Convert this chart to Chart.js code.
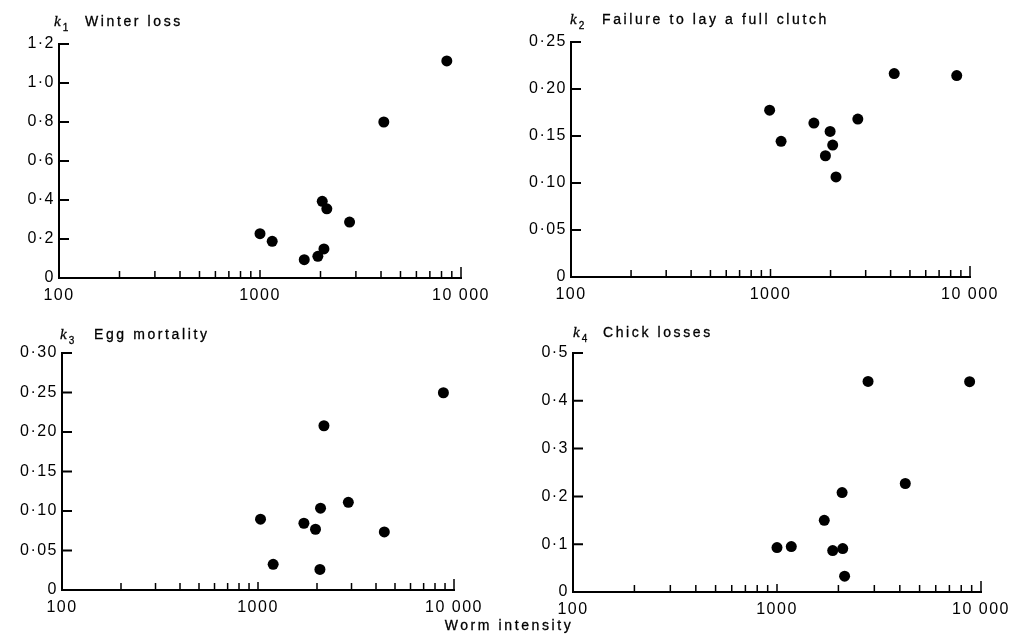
<!DOCTYPE html>
<html>
<head>
<meta charset="utf-8">
<script src="https://cdn.jsdelivr.net/npm/chart.js@4.4.1/dist/chart.umd.min.js"></script>
<style>
  body { margin: 0; background: #fff; }
  #page { position: relative; width: 1014px; height: 638px; overflow: hidden; background: #fff; }
  canvas { position: absolute; }
  .ttl { position: absolute; font: 14px/16px "Liberation Sans", Arial, sans-serif; letter-spacing: 2.6px; color: #000; white-space: nowrap; -webkit-text-stroke: 0.3px #000; }
  .kk { position: absolute; font: italic 15px/16px "Liberation Serif", serif; color: #000; -webkit-text-stroke: 0.3px #000; }
  .kk sub { font: normal 10px "Liberation Sans", sans-serif; vertical-align: -5px; margin-left: 2px; }
</style>
</head>
<body>
<div id="page">
  <canvas id="c1" width="507" height="319" style="left:0;top:0"></canvas>
  <canvas id="c2" width="507" height="319" style="left:507px;top:0"></canvas>
  <canvas id="c3" width="507" height="319" style="left:0;top:319px"></canvas>
  <canvas id="c4" width="507" height="319" style="left:507px;top:319px"></canvas>

  <div class="kk" style="left:54px;top:13px">k<sub>1</sub></div>
  <div class="ttl" style="left:85px;top:13px">Winter loss</div>
  <div class="kk" style="left:570px;top:11px">k<sub>2</sub></div>
  <div class="ttl" style="left:602px;top:11px">Failure to lay a full clutch</div>
  <div class="kk" style="left:60px;top:326px">k<sub>3</sub></div>
  <div class="ttl" style="left:94px;top:326px">Egg mortality</div>
  <div class="kk" style="left:573px;top:324px">k<sub>4</sub></div>
  <div class="ttl" style="left:603px;top:324px">Chick losses</div>

  <div class="ttl" style="left:0;top:617px;width:1018px;text-align:center">Worm intensity</div>
</div>

<script>
// x tick labels (log axis, shared by all four panels)
var xTickVals = [100, 1000, 10000];
var xTickLabels = ['100', '1000', '10 000'];

// k1 Winter loss
var x1 = [1000, 1150, 1660, 1940, 2040, 2080, 2150, 2790, 4130, 8500];
var y1 = [0.227, 0.188, 0.094, 0.111, 0.393, 0.149, 0.355, 0.287, 0.80, 1.113];
var y1Ticks = [0, 0.2, 0.4, 0.6, 0.8, 1.0, 1.2];
var y1Labels = ['0', '0·2', '0·4', '0·6', '0·8', '1·0', '1·2'];

// k2 Failure to lay a full clutch
var x2 = [990, 1130, 1650, 1885, 1990, 2050, 2130, 2740, 4170, 8580];
var y2 = [0.1775, 0.1443, 0.1637, 0.129, 0.1549, 0.1404, 0.1064, 0.168, 0.2164, 0.2143];
var y2Ticks = [0, 0.05, 0.10, 0.15, 0.20, 0.25];
var y2Labels = ['0', '0·05', '0·10', '0·15', '0·20', '0·25'];

// k3 Egg mortality
var x3 = [1030, 1195, 1715, 1965, 2070, 2085, 2170, 2890, 4410, 8830];
var y3 = [0.0896, 0.0325, 0.0845, 0.0769, 0.026, 0.1035, 0.2079, 0.111, 0.0735, 0.2497];
var y3Ticks = [0, 0.05, 0.10, 0.15, 0.20, 0.25, 0.30];
var y3Labels = ['0', '0·05', '0·10', '0·15', '0·20', '0·25', '0·30'];

// k4 Chick losses
var x4 = [1000, 1175, 1705, 1875, 2085, 2100, 2145, 2795, 4255, 8795];
var y4 = [0.093, 0.0951, 0.150, 0.0867, 0.208, 0.0909, 0.033, 0.4406, 0.227, 0.44];
var y4Ticks = [0, 0.1, 0.2, 0.3, 0.4, 0.5];
var y4Labels = ['0', '0·1', '0·2', '0·3', '0·4', '0·5'];

var tickFont = { family: '"Liberation Sans", Arial, sans-serif', size: 16 };

// inward tick marks, like the printed figure
var tickMarks = {
  id: 'tickMarks',
  beforeDraw: function (chart) {
    chart.ctx.letterSpacing = '1.5px';
  },
  afterDraw: function (chart) {
    var ctx = chart.ctx;
    var xs = chart.scales.x, ys = chart.scales.y;
    var a = chart.chartArea;
    ctx.save();
    ctx.letterSpacing = '0px';
    ctx.strokeStyle = '#000';

    ctx.lineWidth = 2;
    ctx.beginPath();
    ys.ticks.forEach(function (t) {
      if (t.value === 0) return;
      var p = ys.getPixelForValue(t.value);
      ctx.moveTo(a.left, p);
      ctx.lineTo(a.left + 10, p);
    });
    ctx.stroke();

    ctx.lineWidth = 1.5;
    ctx.beginPath();
    [100, 1000].forEach(function (d) {
      for (var k = 2; k <= 10; k++) {
        var p = xs.getPixelForValue(k * d);
        var len = 7;
        if (k === 10) len = d === 1000 ? 11 : 8;
        ctx.moveTo(p, a.bottom);
        ctx.lineTo(p, a.bottom - len);
      }
    });
    ctx.stroke();
    ctx.restore();
  }
};

function makePanel(id, xs, ys, yVals, yLabels, lay) {
  var pts = xs.map(function (x, i) { return { x: x, y: ys[i] }; });
  return new Chart(document.getElementById(id), {
    type: 'scatter',
    data: {
      datasets: [{
        data: pts,
        backgroundColor: '#000',
        borderColor: '#000',
        pointRadius: 5.5,
        pointBorderWidth: 0,
        clip: false
      }]
    },
    options: {
      responsive: false,
      animation: false,
      layout: { padding: { left: 0, top: lay.top, right: lay.right, bottom: 0 } },
      plugins: { legend: { display: false }, tooltip: { enabled: false } },
      scales: {
        x: {
          type: 'logarithmic',
          min: 100,
          max: 10000,
          grid: { display: false, drawTicks: false },
          border: { display: true, color: '#000', width: 2 },
          afterBuildTicks: function (s) { s.ticks = xTickVals.map(function (v) { return { value: v }; }); },
          afterFit: function (s) { s.height = lay.xh; },
          ticks: {
            color: '#000', font: tickFont, padding: 8, maxRotation: 0, autoSkip: false,
            callback: function (v, i) { return xTickLabels[i]; }
          }
        },
        y: {
          type: 'linear',
          min: 0,
          max: yVals[yVals.length - 1],
          grid: { display: false, drawTicks: false },
          border: { display: true, color: '#000', width: 2 },
          afterBuildTicks: function (s) { s.ticks = yVals.map(function (v) { return { value: v }; }); },
          afterFit: function (s) { s.width = lay.yw; },
          ticks: {
            color: '#000', font: tickFont, padding: 4, autoSkip: false,
            callback: function (v, i) { return yLabels[i]; }
          }
        }
      }
    },
    plugins: [tickMarks]
  });
}

makePanel('c1', x1, y1, y1Ticks, y1Labels, { yw: 59, right: 46, top: 44, xh: 41 });
makePanel('c2', x2, y2, y2Ticks, y2Labels, { yw: 64, right: 44, top: 42, xh: 42 });
makePanel('c3', x3, y3, y3Ticks, y3Labels, { yw: 62, right: 53, top: 34, xh: 48 });
makePanel('c4', x4, y4, y4Ticks, y4Labels, { yw: 66, right: 33, top: 34, xh: 46 });
</script>
</body>
</html>
